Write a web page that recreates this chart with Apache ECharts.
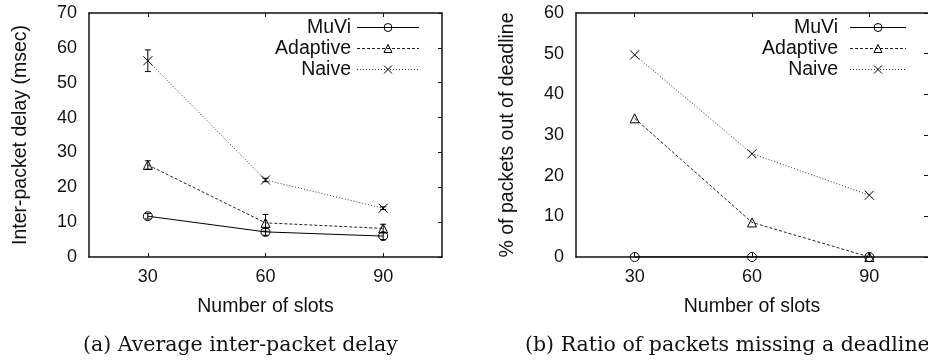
<!DOCTYPE html>
<html>
<head>
<meta charset="utf-8">
<script src="https://cdn.jsdelivr.net/npm/echarts@6/dist/echarts.min.js"></script>
<style>html,body{margin:0;padding:0;background:#fff;}#c{width:928px;height:360px;}</style>
</head>
<body>
<div id="c"></div>
<script>
// ---- data ----
var slots = [30, 60, 90];
var seriesNames = ['MuVi', 'Adaptive', 'Naive'];
// (a) average inter-packet delay (msec) with error half-widths
var delayMuVi = [11.7, 7.2, 6.0];
var delayMuViErr = [0.8, 1.0, 1.0];
var delayAdaptive = [26.4, 9.8, 8.2];
var delayAdaptiveErr = [1.2, 2.4, 1.2];
var delayNaive = [56.3, 22.1, 14.0];
var delayNaiveErr = [3.1, 0.5, 0.4];
// (b) % of packets out of deadline
var missMuVi = [0, 0, 0];
var missAdaptive = [34.1, 8.5, 0];
var missNaive = [49.7, 25.4, 15.2];
var xTicks = [30, 60, 90];
var captionA = '(a) Average inter-packet delay';
var captionB = '(b) Ratio of packets missing a deadline';

var SANS = '"Liberation Sans", Arial, sans-serif';
var SERIF = '"DejaVu Serif", serif';
var FS = 18;
var FSN = 19.5;
var INK = '#111';
var CLEAR = 'rgba(0,0,0,0)';

function pairs(ys) { return slots.map(function (x, i) { return [x, ys[i]]; }); }
function triples(ys, es) { return slots.map(function (x, i) { return [x, ys[i], es[i]]; }); }

var styles = {
  MuVi: { symbol: 'circle', size: 9, dash: 'solid', color: '#000' },
  Adaptive: { symbol: 'triangle', size: 9, dash: [3, 2], color: '#222' },
  Naive: { symbol: 'path://M0,0L10,10M10,0L0,10', size: 9, dash: [1, 2], color: '#333' }
};

function lineSeries(name, ys, gi) {
  var s = styles[name];
  return {
    type: 'line', name: name, xAxisIndex: gi * 2, yAxisIndex: gi * 2,
    data: pairs(ys), symbol: s.symbol, symbolSize: s.size, showAllSymbol: true,
    lineStyle: { color: s.color, width: 1, type: s.dash },
    itemStyle: { color: CLEAR, borderColor: '#000', borderWidth: 1 },
    emphasis: { disabled: true }, animation: false, z: 3
  };
}

function errSeries(ys, es) {
  return {
    type: 'custom', xAxisIndex: 0, yAxisIndex: 0, data: triples(ys, es), z: 4, animation: false,
    renderItem: function (params, api) {
      var x = api.value(0), y = api.value(1), e = api.value(2);
      var top = api.coord([x, y + e]), bot = api.coord([x, y - e]);
      var st = { stroke: '#000', lineWidth: 1 };
      return { type: 'group', children: [
        { type: 'line', shape: { x1: top[0], y1: top[1], x2: bot[0], y2: bot[1] }, style: st },
        { type: 'line', shape: { x1: top[0] - 3, y1: top[1], x2: top[0] + 3, y2: top[1] }, style: st },
        { type: 'line', shape: { x1: bot[0] - 3, y1: bot[1], x2: bot[0] + 3, y2: bot[1] }, style: st }
      ]};
    }
  };
}

function xAxes(gi) {
  var base = { type: 'value', gridIndex: gi, min: 15, max: 105,
    axisLine: { show: true, onZero: false, lineStyle: { color: INK, width: 1.5 } },
    axisTick: { show: true, inside: true, length: 4, customValues: xTicks, lineStyle: { color: INK } },
    splitLine: { show: false } };
  var bottom = Object.assign({}, base, {
    position: 'bottom',
    axisLabel: { show: true, customValues: xTicks, margin: 11, color: INK, fontFamily: SANS, fontSize: FS },
    name: 'Number of slots', nameLocation: 'middle', nameGap: 40,
    nameTextStyle: { color: INK, fontFamily: SANS, fontSize: FSN }
  });
  var top = Object.assign({}, base, { position: 'top', axisLabel: { show: false } });
  return [bottom, top];
}

function yAxes(gi, max, title, showRightLine) {
  var base = { type: 'value', gridIndex: gi, min: 0, max: max, interval: 10,
    axisLine: { show: true, onZero: false, lineStyle: { color: INK, width: 1.5 } },
    splitLine: { show: false } };
  var left = Object.assign({}, base, {
    position: 'left', axisTick: { show: false },
    axisLabel: { margin: 12, color: INK, fontFamily: SANS, fontSize: FS },
    name: title, nameLocation: 'middle', nameGap: 58, nameRotate: 90,
    nameTextStyle: { color: INK, fontFamily: SANS, fontSize: FSN }
  });
  var right = Object.assign({}, base, {
    position: 'right',
    axisLine: { show: showRightLine, onZero: false, lineStyle: { color: INK, width: 1.5 } },
    axisTick: { show: true, inside: true, length: 4, lineStyle: { color: INK } },
    axisLabel: { show: false }
  });
  return [left, right];
}

function legend(left, iconW, padRight) {
  return {
    left: left, top: 12, orient: 'vertical', align: 'right', itemGap: 0,
    itemWidth: iconW, itemHeight: 10, selectedMode: false,
    data: seriesNames,
    itemStyle: { color: CLEAR, borderColor: '#000', borderWidth: 1 },
    lineStyle: { width: 1 },
    textStyle: { color: INK, fontFamily: SANS, fontSize: FSN, width: 84, align: 'right', lineHeight: 21,
      padding: [0, padRight, 0, 0] }
  };
}

var chart = echarts.init(document.getElementById('c'), null, { renderer: 'canvas' });
chart.setOption({
  backgroundColor: '#fff',
  animation: false,
  grid: [
    { left: 89, top: 13, width: 353, height: 244 },
    { left: 576, top: 13, width: 353, height: 244 }
  ],
  xAxis: xAxes(0).concat(xAxes(1)),
  yAxis: yAxes(0, 70, 'Inter-packet delay (msec)', true).concat(yAxes(1, 60, '% of packets out of deadline', false)),
  legend: [legend(262, 62, 1), legend(749, 56, 7)],
  series: [
    lineSeries('MuVi', delayMuVi, 0),
    lineSeries('Adaptive', delayAdaptive, 0),
    lineSeries('Naive', delayNaive, 0),
    errSeries(delayMuVi, delayMuViErr),
    errSeries(delayAdaptive, delayAdaptiveErr),
    errSeries(delayNaive, delayNaiveErr),
    lineSeries('MuVi', missMuVi, 1),
    lineSeries('Adaptive', missAdaptive, 1),
    lineSeries('Naive', missNaive, 1)
  ],
  graphic: [
    { type: 'text', left: 83, top: 335, style: { text: captionA, font: '20.5px ' + SERIF, fill: '#111' } },
    { type: 'text', left: 525, top: 335, style: { text: captionB, font: '20.5px ' + SERIF, fill: '#111' } }
  ]
});
</script>
</body>
</html>
